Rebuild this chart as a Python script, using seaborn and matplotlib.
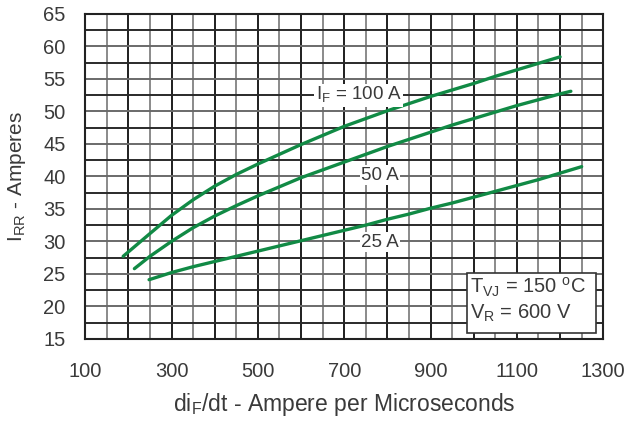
import numpy as np
import pandas as pd
import matplotlib
matplotlib.use('Agg')
import matplotlib.pyplot as plt
from matplotlib.patches import Rectangle
import seaborn as sns

# data
x_100 = [188, 250, 300, 350, 400, 450, 500, 550, 600, 650, 700, 750, 800, 850,
         900, 950, 1000, 1050, 1100, 1150, 1200]
y_100 = [27.7, 31.2, 34.0, 36.4, 38.5, 40.3, 41.9, 43.4, 44.9, 46.3, 47.7, 48.9,
         50.1, 51.2, 52.3, 53.3, 54.3, 55.4, 56.4, 57.4, 58.4]
x_50 = [214, 250, 300, 350, 400, 450, 500, 550, 600, 650, 700, 750, 800, 850,
        900, 950, 1000, 1050, 1100, 1150, 1200, 1225]
y_50 = [25.8, 27.7, 30.0, 32.1, 33.9, 35.5, 37.0, 38.4, 39.8, 41.0, 42.2, 43.4,
        44.6, 45.7, 46.8, 47.9, 48.9, 49.9, 50.9, 51.8, 52.7, 53.1]
x_25 = [248, 300, 350, 400, 450, 500, 550, 600, 650, 700, 750, 800, 850, 900,
        950, 1000, 1050, 1100, 1150, 1200, 1250]
y_25 = [24.1, 25.2, 26.1, 26.9, 27.7, 28.5, 29.3, 30.1, 30.9, 31.7, 32.5, 33.4,
        34.2, 35.1, 35.9, 36.8, 37.7, 38.6, 39.5, 40.5, 41.5]

x_ticks = [100, 300, 500, 700, 900, 1100, 1300]
y_ticks = [15, 20, 25, 30, 35, 40, 45, 50, 55, 60, 65]

df = pd.concat([
    pd.DataFrame({'di': x_100, 'irr': y_100, 'IF': '100 A'}),
    pd.DataFrame({'di': x_50, 'irr': y_50, 'IF': '50 A'}),
    pd.DataFrame({'di': x_25, 'irr': y_25, 'IF': '25 A'}),
])

sns.set_theme(style='white')
plt.rcParams['font.family'] = ['Liberation Sans', 'DejaVu Sans']
text_col = '#3a3a3a'

fig, ax = plt.subplots(figsize=(6.31, 4.23), dpi=100)
fig.subplots_adjust(left=0.135, right=0.956, top=0.967, bottom=0.199)

# grid: every 50 on x, every 2.5 on y
for xv in np.arange(150, 1300, 50):
    col = '#1e1e1e' if xv % 100 == 0 else '#8a8a8a'
    ax.axvline(xv, color=col, lw=1.4, zorder=1)
for yv in np.arange(17.5, 65, 2.5):
    col = '#2a2a2a' if (yv * 2) % 10 == 5 else '#6a6a6a'
    ax.axhline(yv, color=col, lw=1.4, zorder=1)

sns.lineplot(data=df, x='di', y='irr', hue='IF', units='IF', estimator=None,
             palette=['#118a45'] * 3, lw=2.4, legend=False, ax=ax, zorder=3)

ax.set_xlim(100, 1300)
ax.set_ylim(15, 65)
ax.set_xticks(x_ticks)
ax.set_yticks(y_ticks)
ax.tick_params(labelsize=14.5, colors=text_col, length=0)
ax.tick_params(axis='x', pad=17)
ax.tick_params(axis='y', pad=14)
for s in ax.spines.values():
    s.set_color('#222222')
    s.set_linewidth(1.5)

ax.set_xlabel('di$_\\mathregular{F}$/dt - Ampere per Microseconds', fontsize=16.5,
              color=text_col, labelpad=7)
ax.set_ylabel('I$_\\mathregular{RR}$ - Amperes', fontsize=15, color=text_col, labelpad=11)

box = dict(facecolor='white', edgecolor='none', pad=1.0)
ax.text(734, 52.5, 'I$_\\mathregular{F}$ = 100 A', fontsize=13.5, color=text_col,
        ha='center', va='center', bbox=box, zorder=4)
ax.text(783, 40.2, '50 A', fontsize=13.5, color=text_col,
        ha='center', va='center', bbox=box, zorder=4)
ax.text(783, 29.9, '25 A', fontsize=13.5, color=text_col,
        ha='center', va='center', bbox=box, zorder=4)

# condition box
ax.add_patch(Rectangle((0.7375, 0.018), 0.249, 0.185, transform=ax.transAxes,
                       facecolor='white', edgecolor='#333333', lw=1.2, zorder=5))
ax.text(0.743, 0.157, 'T$_\\mathregular{VJ}$ = 150 $^\\mathregular{o}$C',
        transform=ax.transAxes, fontsize=14.5, color=text_col, ha='left',
        va='center', zorder=6)
ax.text(0.743, 0.078, 'V$_\\mathregular{R}$ = 600 V',
        transform=ax.transAxes, fontsize=14.5, color=text_col, ha='left',
        va='center', zorder=6)

fig.savefig('out.png', dpi=100)
